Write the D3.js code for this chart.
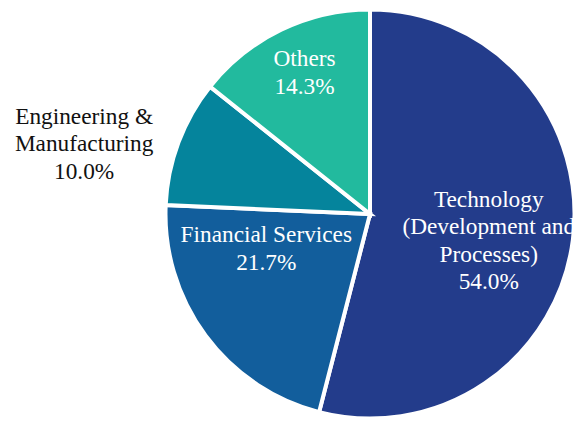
<!DOCTYPE html>
<html>
<head>
<meta charset="utf-8">
<script src="https://cdn.jsdelivr.net/npm/d3@7/dist/d3.min.js"></script>
<style>
  html, body { margin: 0; padding: 0; background: #ffffff; overflow: hidden; }
</style>
</head>
<body>
<svg id="chart" width="574" height="421"></svg>
<script>
// Data
const categories = ["Technology\n(Development and\nProcesses)", "Financial Services", "Engineering &\nManufacturing", "Others"];
const values = [54.0, 21.7, 10.0, 14.3];
const colors = ["#233C8B", "#125E9C", "#05849C", "#22BA9E"];
const labelColors = ["#ffffff", "#ffffff", "#111111", "#ffffff"];
// label placement: [angle offset (deg), radius]
const labelPolar = [[6, 123], [17, 109], [-7, 293], [1, 154]];

const svg = d3.select("#chart");
const cx = 370, cy = 214, R = 204.5;
const g = svg.append("g").attr("transform", `translate(${cx},${cy})`);
const lg = svg.append("g").attr("transform", `translate(${cx - 1},${cy - 2})`);

const pie = d3.pie().sort(null).value(d => d)(values);
const arc = d3.arc().innerRadius(0).outerRadius(R);

g.selectAll("path.slice")
  .data(pie)
  .join("path")
  .attr("class", "slice")
  .attr("d", arc)
  .attr("fill", (d, i) => colors[i])
  .attr("stroke", "#ffffff")
  .attr("stroke-width", 4)
  .attr("stroke-linejoin", "miter");

const fontSize = 23.3, lineH = 27.5;
pie.forEach((d, i) => {
  const mid = (d.startAngle + d.endAngle) / 2 + labelPolar[i][0] * Math.PI / 180;
  const r = labelPolar[i][1];
  const x = Math.sin(mid) * r, y = -Math.cos(mid) * r;
  const lines = categories[i].split("\n").concat([values[i].toFixed(1) + "%"]);
  const t = lg.append("text")
    .attr("text-anchor", "middle")
    .attr("fill", labelColors[i])
    .style("font-family", '"Liberation Serif"')
    .style("font-size", fontSize + "px");
  const startY = y - (lines.length - 1) * lineH / 2 + fontSize * 0.33;
  lines.forEach((ln, j) => {
    t.append("tspan").attr("x", x).attr("y", startY + j * lineH).text(ln);
  });
});
</script>
</body>
</html>
